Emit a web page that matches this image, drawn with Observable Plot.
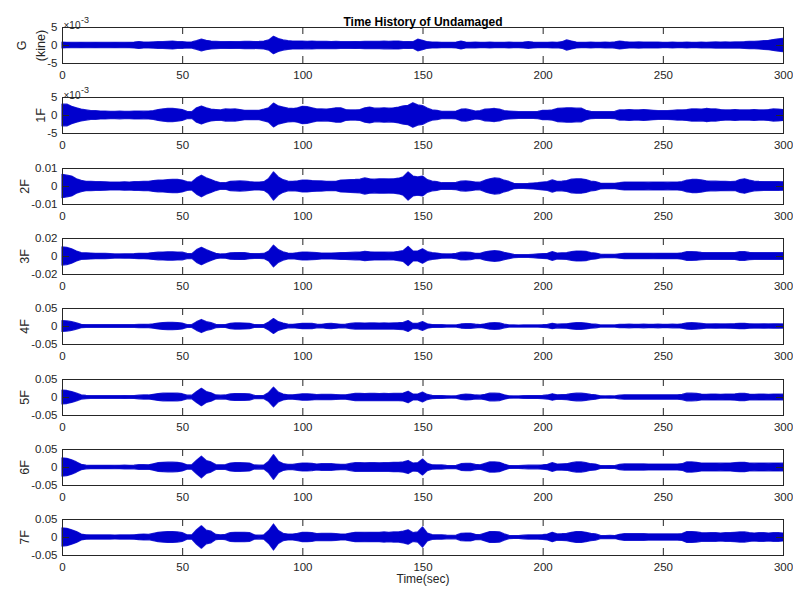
<!DOCTYPE html>
<html><head><meta charset="utf-8">
<script src="https://cdn.jsdelivr.net/npm/d3@7"></script>
<script src="https://cdn.jsdelivr.net/npm/@observablehq/plot@0.6"></script>
<style>
html,body{margin:0;padding:0;background:#fff;}
#chart{position:relative;width:793px;height:590px;overflow:hidden;background:#fff;}
#chart svg{position:absolute;left:0;overflow:visible;}
</style></head><body><div id="chart"></div>
<script>
// Sample times (sec) of the read envelope
const time = [0,2,4,6,8,10,12,14,16,18,20,22,24,26,28,30,32,34,36,38,40,42,44,46,48,50,52,54,56,58,
60,62,64,66,68,70,72,74,76,78,80,82,84,86,88,90,92,94,96,98,100,102,104,106,108,110,112,114,116,118,
120,122,124,126,128,130,132,134,136,138,140,142,144,146,148,150,152,154,156,158,160,162,164,166,168,170,172,174,176,178,
180,182,184,186,188,190,192,194,196,198,200,202,204,206,208,210,212,214,216,218,220,222,224,226,228,230,232,234,236,238,
240,242,244,246,248,250,252,254,256,258,260,262,264,266,268,270,272,274,276,278,280,282,284,286,288,290,292,294,296,298,300];

// Amplitude envelopes, in units of 1e-3
const envG = [0.8,0.75,0.7,0.7,0.75,0.7,0.7,0.75,0.7,0.7,
0.7,0.75,0.7,0.7,0.75,0.8,0.95,0.8,0.8,0.85,
0.9,0.9,1.0,1.1,0.9,0.9,0.8,0.85,1.2,1.6,
1.3,1.1,1.0,0.9,0.9,0.95,0.9,0.9,1.0,1.0,
0.95,1.0,1.1,1.4,2.4,1.8,1.4,1.2,1.1,1.1,
1.1,1.0,1.1,1.0,1.0,1.0,0.95,1.0,0.9,0.9,
0.9,0.95,0.9,1.0,1.0,1.0,1.0,1.05,1.0,1.1,
1.1,0.9,0.95,0.9,1.6,1.3,0.9,0.8,0.8,0.75,
0.75,0.75,0.8,1.1,0.8,0.75,0.8,0.75,0.75,0.8,
0.75,0.75,0.75,0.8,0.75,0.75,0.8,0.9,0.8,0.75,
0.75,0.75,0.8,0.75,0.9,1.4,1.1,0.8,0.75,0.75,
0.8,0.75,0.75,0.8,0.75,0.85,1.1,0.9,0.8,0.8,
0.85,0.8,0.8,0.8,0.8,0.75,0.75,0.8,0.75,0.75,
0.8,0.75,0.75,0.8,0.75,0.8,0.85,0.8,0.85,0.8,
0.85,0.85,0.9,1.0,1.0,1.1,1.2,1.3,1.5,1.7,
1.8];
const env1F = [3.0,3.0,2.4,2.0,1.6,1.4,1.2,1.2,1.1,1.1,
1.0,1.0,1.05,1.0,1.0,1.1,1.1,1.05,1.1,1.2,
1.5,1.7,1.8,1.8,1.7,1.5,1.0,0.9,2.0,2.5,
2.0,1.6,1.5,1.4,1.7,1.6,1.7,1.5,1.3,1.3,
1.3,1.3,1.6,2.0,3.3,2.5,2.2,1.9,1.8,2.0,
2.4,2.3,2.0,1.7,1.7,1.6,1.8,2.0,2.0,1.5,
1.4,1.4,1.5,2.0,2.2,1.9,1.9,2.0,1.9,2.0,
2.2,2.5,2.7,3.4,2.8,2.6,1.9,1.4,1.3,1.0,
1.0,1.0,1.1,1.6,1.7,1.4,1.1,1.2,1.6,1.7,
1.8,1.6,1.2,1.1,1.0,0.9,0.9,0.9,0.9,1.0,
1.3,1.3,1.4,1.8,1.9,2.0,2.0,1.9,1.9,1.3,
1.0,0.9,0.9,0.9,0.9,1.0,1.4,1.4,1.5,1.4,
1.4,1.5,1.4,1.3,1.2,1.2,1.2,1.3,1.4,1.4,
1.5,1.7,1.7,1.6,1.8,1.7,1.7,1.5,1.4,1.4,
1.5,1.4,1.4,1.4,1.5,1.4,1.4,1.5,1.7,1.6,
1.5];
const env2F = [6.5,6.0,5.5,4.0,3.1,2.6,2.5,2.4,2.4,2.3,
2.2,2.2,2.2,2.3,2.2,2.4,2.4,2.5,2.5,3.0,
3.2,3.3,3.5,3.6,3.6,3.3,2.4,2.2,4.5,6.0,
4.5,3.6,2.5,1.8,1.8,2.6,2.7,2.8,2.7,2.4,
2.2,2.2,2.4,4.2,7.8,5.0,3.5,2.7,2.6,2.8,
3.3,3.3,3.0,2.9,2.8,2.6,2.5,2.6,3.3,3.4,
3.5,3.6,3.8,4.5,4.0,3.8,4.0,4.0,3.9,4.0,
4.3,5.1,7.8,5.5,5.0,5.5,3.5,2.7,2.4,1.8,
1.8,1.8,2.0,2.7,2.8,2.6,2.2,2.1,3.2,4.0,
4.5,4.2,3.2,2.5,1.5,1.3,1.3,1.4,1.6,1.8,
2.2,2.4,3.4,2.6,2.7,3.0,3.8,4.0,4.0,3.6,
2.7,2.4,1.6,1.5,1.5,1.5,1.8,2.2,2.2,2.2,
2.2,2.2,2.1,2.2,2.2,2.2,2.1,2.2,2.2,2.4,
3.2,3.6,3.6,3.4,2.9,2.7,2.7,2.6,2.5,2.4,
2.5,3.5,4.0,3.2,2.7,2.5,2.4,2.4,2.4,2.4,
2.3];
const env3F = [10,9.5,8.0,5.5,3.7,3.5,3.2,3.0,3.0,2.8,
2.5,2.2,2.2,2.4,2.4,2.6,3.0,3.0,3.2,3.8,
4.2,4.4,4.6,4.6,4.4,4.2,2.8,2.6,7.0,9.6,
7.0,5.0,3.0,2.2,2.4,3.5,3.7,3.8,3.6,3.0,
2.6,2.6,2.8,5.5,12,7.0,4.5,3.2,3.0,3.6,
4.4,4.4,4.0,3.6,3.3,3.3,3.2,3.4,3.7,3.8,
4.0,4.2,4.4,5.0,4.6,4.4,4.4,4.4,4.2,4.4,
5.0,6.0,10.7,5.5,5.5,8.0,4.8,3.7,3.2,2.4,
2.2,2.2,2.8,4.2,4.4,4.0,3.0,3.0,4.5,5.5,
5.9,5.5,4.0,3.0,1.8,1.5,1.5,1.5,1.8,2.2,
2.6,3.0,4.8,3.3,3.5,3.7,4.8,5.5,5.5,5.0,
3.7,3.2,2.0,1.8,1.8,1.8,2.4,3.0,3.0,3.0,
3.0,3.0,3.0,2.9,3.0,3.0,3.0,3.0,3.0,3.5,
4.8,4.8,4.6,4.0,3.7,3.7,3.7,3.6,3.7,3.7,
3.8,4.8,4.8,4.0,3.7,3.7,3.6,3.7,3.7,3.7,
3.6];
const env4F = [15,14,12,8.4,4.7,3.8,3.6,3.6,3.7,3.6,
3.6,3.5,3.6,3.7,3.8,3.7,4.5,4.7,4.5,6.0,
8.0,9.5,10,10,9.5,8.0,3.8,3.7,12,18,
12,9.3,4.5,3.7,4.0,7.5,8.4,8.4,8.0,7.5,
4.0,3.7,4.0,11,20.5,12,8.0,5.0,4.7,6.0,
7.5,7.5,7.0,5.0,4.7,6.5,7.0,6.0,4.7,5.0,
7.0,8.4,8.4,8.0,8.4,8.4,8.0,8.4,8.0,8.4,
9.0,10,15,7.0,7.0,12,6.0,4.0,3.7,3.7,
3.0,2.8,3.0,5.5,6.5,6.5,5.0,4.0,6.0,8.4,
9.0,8.4,5.0,3.0,2.8,2.6,2.8,3.0,2.8,3.0,
3.5,4.5,7.5,5.0,5.5,6.0,8.0,9.0,9.0,8.0,
6.0,5.0,3.0,2.8,3.0,2.8,4.5,4.7,5.0,4.7,
4.7,5.0,4.7,4.7,5.0,4.7,4.7,5.0,4.7,6.0,
8.4,9.0,8.4,7.0,5.6,5.6,6.0,5.6,5.6,6.0,
6.5,7.5,7.5,6.0,5.6,5.6,6.0,5.6,6.0,6.0,
5.8];
const env5F = [19,18,15,10.5,5.8,4.2,3.8,3.8,3.8,3.8,
3.8,3.7,3.8,3.9,3.8,4.0,5.0,5.8,5.5,7.5,
9.5,10.5,11,11,10.5,9.0,5.0,5.0,15,24,
15,11.5,5.5,5.0,5.5,8.5,9.6,9.6,9.0,8.5,
4.5,4.0,4.5,12.5,27,13.5,8.0,6.0,6.0,7.5,
8.7,8.7,8.0,6.5,7.0,7.0,7.0,6.5,6.0,6.0,
8.0,10,10,9.5,10,10,9.5,10,9.5,10,
10,11,16,8.0,8.0,13.5,7.0,4.5,4.0,4.0,
3.2,3.0,3.2,6.5,7.7,7.5,5.5,5.0,7.5,10.6,
10.6,10,6.0,3.2,3.0,3.0,3.5,4.0,4.0,4.0,
4.5,5.5,9.0,6.0,6.5,7.0,9.5,10.6,10.6,9.0,
7.0,6.0,3.2,3.0,3.2,3.0,5.0,6.0,6.0,6.0,
6.0,6.0,6.0,6.0,6.0,6.0,6.0,6.0,6.0,7.0,
10.6,10.6,10,8.0,7.5,8.0,8.0,7.5,8.0,8.0,
8.5,10,10,8.0,7.5,8.0,8.0,7.5,8.0,8.0,
7.8];
const env6F = [25,24,20,14,7.4,5.0,4.6,4.6,4.6,4.6,
4.6,4.5,4.6,4.8,4.6,5.0,6.5,6.5,6.0,9.0,
12,13,13.5,13.5,13,11,6.0,6.0,19,30,
18,14,6.5,6.0,6.5,11,12,12,11.5,11,
5.5,5.0,5.5,16,34,16,9.5,7.0,7.0,9.0,
11,11,10,8.0,9.0,9.0,9.0,8.0,7.0,7.0,
10,12,12,11.5,12,12,11.5,12,12,13,
13,14,18,11,12,22,10,6.0,5.5,5.5,
4.5,4.0,4.5,9.0,10,10,7.0,6.0,10,14,
14,13,8.0,4.0,3.7,3.7,4.5,5.0,5.0,5.0,
6.0,7.5,12,8.0,8.5,9.0,12,14,14,12,
9.0,8.0,4.0,3.7,4.0,3.7,7.0,8.5,8.5,8.5,
8.5,8.5,8.0,8.0,8.0,8.0,8.0,8.0,8.0,9.0,
14,14,13,11,11,11,11,10.5,11,11,
12,13,13,11,10.5,11,11,10.5,11,11,
10.5];
const env7F = [25,24,20,15,8.0,6.0,5.5,5.5,5.5,5.5,
5.5,5.4,5.5,5.8,5.5,6.0,7.5,8.0,7.0,10,
13,14,15,15,14,12,6.0,6.0,20,31,
19,16,7.0,6.0,7.0,12,13,13,12.5,12,
6.0,5.0,6.0,18,36,18,10,8.0,8.0,10,
13,13,12,9.5,10,10,10,9.0,8.0,8.0,
11,13,13,12.5,13,13,13,14,13,14,
14,16,20,12,14,28,11,6.5,6.0,6.0,
5.0,4.5,5.0,10,11,11,7.5,6.5,11,15,
15,14,8.5,4.5,4.0,4.0,5.0,5.5,5.5,5.5,
6.5,8.0,13,8.5,9.0,10,13,15,15,13,
10,8.5,4.5,4.0,4.5,4.0,7.5,9.0,9.0,9.0,
9.0,9.0,8.5,8.5,8.5,8.5,8.5,8.5,8.5,9.5,
15,15,14,12,11.5,12,12,11,12,12,
13,14,14,12,11,12,12,11,12,12,
11];

const envUnit = 1e-3;
const channelNames = ["G\n(kine)", "1F", "2F", "3F", "4F", "5F", "6F", "7F"];
const envelopes = [envG, env1F, env2F, env3F, env4F, env5F, env6F, env7F];
const yLimits = [0.005, 0.005, 0.01, 0.02, 0.05, 0.05, 0.05, 0.05];
const yTickLabels = [["-5","0","5"],["-5","0","5"],["-0.01","0","0.01"],["-0.02","0","0.02"],
  ["-0.05","0","0.05"],["-0.05","0","0.05"],["-0.05","0","0.05"],["-0.05","0","0.05"]];
const exponentLabel = [true, true, false, false, false, false, false, false];
const xTicks = [0, 50, 100, 150, 200, 250, 300];
const title = "Time History of Undamaged";
const xLabel = "Time(sec)";

const ink = "#262626";
const blue = "#0000cd";
const font = "'Liberation Sans', Arial, Helvetica, sans-serif";
const chart = document.getElementById("chart");
const plotW = 721, plotH = 36, mL = 62, mR = 10, mT = 16;
const fs = 11.5;

channelNames.forEach((name, i) => {
  const lim = yLimits[i];
  const yTicks = [-lim, 0, lim];
  const labels = yTickLabels[i];
  const rows = time.map((t, k) => ({t, a: envelopes[i][k] * envUnit}));
  const last = i === channelNames.length - 1;
  const mB = last ? 38 : 22;
  const labelCenter = i === 0 ? 29 : (labels[0].length > 2 ? 22.5 : 38.5);
  const marks = [
    Plot.areaY(rows, {x: "t", y1: d => -d.a, y2: d => d.a, fill: blue, stroke: blue, strokeWidth: 1.3, strokeOpacity: 0.85}),
    Plot.frame({stroke: ink, strokeWidth: 1}),
    Plot.ruleX(xTicks, {stroke: ink, insetTop: plotH - 7}),
    Plot.ruleX(xTicks, {stroke: ink, insetBottom: plotH - 7}),
    Plot.ruleY(yTicks, {stroke: ink, insetRight: plotW - 7}),
    Plot.ruleY(yTicks, {stroke: ink, insetLeft: plotW - 7}),
    Plot.axisX({ticks: xTicks, tickSize: 0, tickPadding: 7, label: null, fill: ink, fontSize: fs}),
    Plot.axisY({ticks: yTicks, tickSize: 0, tickPadding: 5, label: null, fill: ink, fontSize: fs,
      tickFormat: d => labels[yTicks.indexOf(d)]}),
    Plot.text([name], {frameAnchor: "left", textAnchor: "middle", rotate: -90, dx: labelCenter - mL,
      fill: ink, fontSize: 12.5, lineHeight: 1.5})
  ];
  if (exponentLabel[i]) {
    marks.push(Plot.text(["×10"], {frameAnchor: "top-left", textAnchor: "start", dx: 1, dy: -6, fill: ink, fontSize: 10}));
    marks.push(Plot.text(["-3"], {frameAnchor: "top-left", textAnchor: "start", dx: 18.5, dy: -10.5, fill: ink, fontSize: 9}));
  }
  if (i === 0) {
    marks.push(Plot.text([title], {frameAnchor: "top", dy: -10, fill: "#000", fontSize: 12, fontWeight: "bold"}));
  }
  if (last) {
    marks.push(Plot.text([xLabel], {frameAnchor: "bottom", dy: 27, fill: ink, fontSize: 12}));
  }
  const svg = Plot.plot({
    width: 793, height: mT + plotH + mB,
    marginLeft: mL, marginRight: mR, marginTop: mT, marginBottom: mB,
    x: {domain: [0, 300]},
    y: {domain: [-lim, lim]},
    style: {fontFamily: font, fontSize: fs + "px", background: "transparent", color: ink},
    marks
  });
  svg.style.top = (27 + i * 70.3 - mT) + "px";
  chart.appendChild(svg);
});
</script>
</body></html>
